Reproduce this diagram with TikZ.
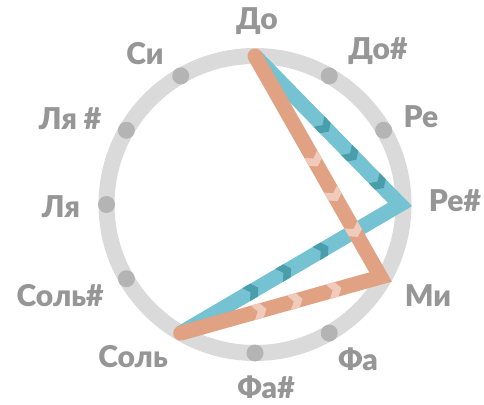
\documentclass[tikz,border=0pt]{standalone}
\usepackage{fontspec}
\setmainfont{Lato}[BoldFont={Lato Black}]
\usetikzlibrary{calc}
\definecolor{ringgray}{HTML}{DADADA}
\definecolor{dotgray}{HTML}{B4B4B4}
\definecolor{txtgray}{HTML}{969696}
\definecolor{blueline}{HTML}{74C2D2}
\definecolor{bluechev}{HTML}{4A9EAC}
\definecolor{orangeline}{HTML}{E0A283}
\definecolor{orangechev}{HTML}{F0CBBB}
\tikzset{
  notelabel/.style={text=txtgray, font=\fontsize{30}{30}\selectfont\bfseries, anchor=base, inner sep=0pt},
  notedot/.style={fill=dotgray},
  ring/.style={draw=ringgray, line width=16pt},
  route/.style={line width=15pt, line join=miter},
  chevron/.pic={\fill[#1] (-8pt,-7.5pt) -- (1pt,-7.5pt) -- (6pt,0pt) -- (1pt,7.5pt) -- (-8pt,7.5pt) -- (-3pt,0pt) -- cycle;}
}
\begin{document}
\begin{tikzpicture}[x=1pt,y=1pt]
\useasboundingbox (0,0) rectangle (484,404);
\coordinate (c) at (255,199.5);
\foreach \i/\a in {0/90,1/60,2/30,3/0,4/-30,5/-60,6/-90,7/-120,8/-150,9/180,10/150,11/120}
  \coordinate (n\i) at ($(c)+(\a:148.5)$);
% route corners sit slightly inside the ring
\coordinate (v3) at ($(c)+(0:145)$);
\coordinate (v4) at ($(c)+(-30:145)$);
\path[ring] (c) circle[radius=148.5];
\foreach \i in {1,2,5,6,8,9,10,11}
  \fill[notedot] (n\i) circle[radius=8.5];
% blue route
\draw[route, blueline] (n0) -- (v3) -- (n7);
\foreach \p in {0.48,0.67,0.86}
  \path (n0) -- (v3) pic[pos=\p, sloped]{chevron=bluechev};
\foreach \p in {0.35,0.52,0.67}
  \path (v3) -- (n7) pic[pos=\p, sloped]{chevron=bluechev};
% orange route
\draw[route, orangeline, line cap=round] (n0) -- (v4) -- (n7);
\foreach \p in {0.476,0.633,0.795}
  \path (n0) -- (v4) pic[pos=\p, sloped]{chevron=orangechev};
\foreach \p in {0.225,0.42,0.60}
  \path (v4) -- (n7) pic[pos=\p, sloped]{chevron=orangechev};
% labels
\node[notelabel] (l0) at (257,374) {До};
\node[notelabel] (l1) at (378,344) {До\#};
\node[notelabel] (l2) at (421,276) {Ре};
\node[notelabel] (l3) at (455,192) {Ре\#};
\node[notelabel] (l4) at (428,97) {Ми};
\node[notelabel] (l5) at (358,34) {Фа};
\node[notelabel] (l6) at (266,6) {Фа\#};
\node[notelabel] (l7) at (133,37) {Соль};
\node[notelabel] (l8) at (60,97) {Соль\#};
\node[notelabel] (l9) at (61,186) {Ля};
\node[notelabel] (l10) at (70,274) {Ля \#};
\node[notelabel] (l11) at (145,339) {Си};
\end{tikzpicture}
\end{document}
